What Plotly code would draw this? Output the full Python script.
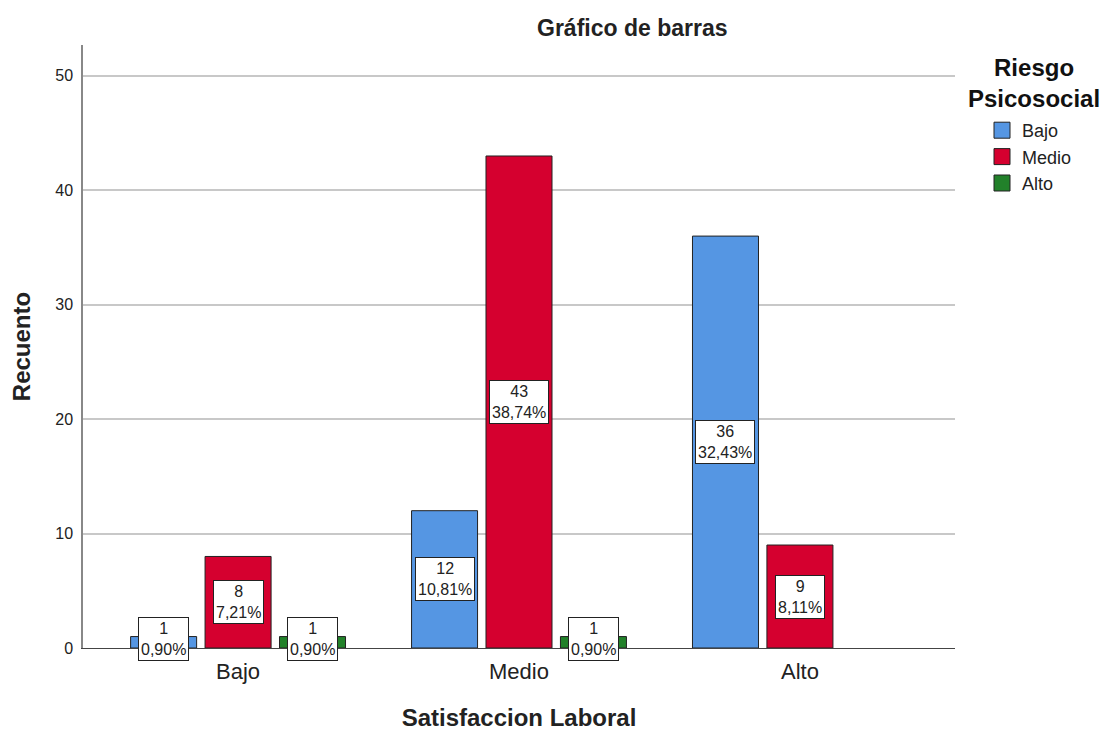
import plotly.graph_objects as go

categories = ["Bajo", "Medio", "Alto"]
series_names = ["Bajo", "Medio", "Alto"]
bajo_counts = [1, 12, 36]
medio_counts = [8, 43, 9]
alto_counts = [1, 1, 0]
total = 111
colors = ["#5596E3", "#D5002F", "#22812A"]

FONT = "Liberation Sans, Arial"
series = [bajo_counts, medio_counts, alto_counts]
xpos = list(range(len(categories)))
slot = 0.265
bw = 0.235

fig = go.Figure()
annotations = []
for j, (name, vals, col) in enumerate(zip(series_names, series, colors)):
    off = (j - 1) * slot
    xs = [x for x, v in zip(xpos, vals) if v > 0]
    ys = [v for v in vals if v > 0]
    fig.add_trace(go.Bar(
        x=xs, y=ys, name=name, width=bw, offset=off - bw / 2,
        marker=dict(color=col, line=dict(color="#222222", width=1)),
        hoverinfo="skip", showlegend=False,
    ))
    # legend entry with a larger square swatch
    fig.add_trace(go.Scatter(
        x=[None], y=[None], mode="markers", name=name,
        marker=dict(symbol="square", size=16, color=col,
                    line=dict(color="#222222", width=1)),
    ))
    for x, v in zip(xs, ys):
        pct = f"{v / total * 100:.2f}".replace(".", ",")
        annotations.append(dict(
            x=x + off, y=max(v / 2, 0.8), xref="x", yref="y",
            text=f"{v}<br>{pct}%", showarrow=False,
            font=dict(family=FONT, size=16, color="#222222"),
            bgcolor="white", bordercolor="#222222", borderwidth=1, borderpad=2,
            align="center",
        ))

# chart title
annotations.append(dict(
    x=(632 - 83) / 872, y=(648 - 28) / 603, xref="paper", yref="paper",
    yanchor="middle", text="<b>Gráfico de barras</b>", showarrow=False,
    font=dict(family=FONT, size=23, color="#222222"),
))
# legend title
annotations.append(dict(
    x=(1034 - 83) / 872, y=(648 - 83) / 603, xref="paper", yref="paper",
    yanchor="middle", xanchor="center", text="<b>Riesgo<br>Psicosocial</b>",
    showarrow=False, align="center",
    font=dict(family=FONT, size=24, color="#111111"),
))

fig.update_layout(
    width=1105, height=731,
    margin=dict(l=83, r=150, t=45, b=83, autoexpand=False),
    paper_bgcolor="white", plot_bgcolor="white",
    barmode="overlay",
    showlegend=True,
    annotations=annotations,
    font=dict(family=FONT, color="#222222"),
    legend=dict(
        font=dict(size=18, family=FONT, color="#222222"),
        x=(982 - 83) / 872, y=(648 - 112) / 603, xanchor="left", yanchor="top",
        bgcolor="rgba(0,0,0,0)", tracegroupgap=0, itemsizing="trace",
    ),
    xaxis=dict(
        tickmode="array", tickvals=xpos, ticktext=categories,
        range=[-0.552, 2.552], showgrid=False, zeroline=False,
        showline=True, linecolor="#444444", linewidth=1,
        tickfont=dict(size=22, color="#222222"), ticks="", ticklabelstandoff=4,
        title=dict(text="<b>Satisfaccion Laboral</b>", font=dict(size=24), standoff=26),
    ),
    yaxis=dict(
        range=[0, 52.7], tickvals=[0, 10, 20, 30, 40, 50],
        showgrid=True, gridcolor="#C8C8C8", gridwidth=1.5, zeroline=False,
        showline=True, linecolor="#888888", linewidth=1.5,
        tickfont=dict(size=16, color="#222222"), ticks="", ticklabelstandoff=5,
        title=dict(text="<b>Recuento</b>", font=dict(size=24), standoff=18),
    ),
)

fig.write_html("out.html", config={"displayModeBar": False},
               post_script="document.body.style.margin='0';")
